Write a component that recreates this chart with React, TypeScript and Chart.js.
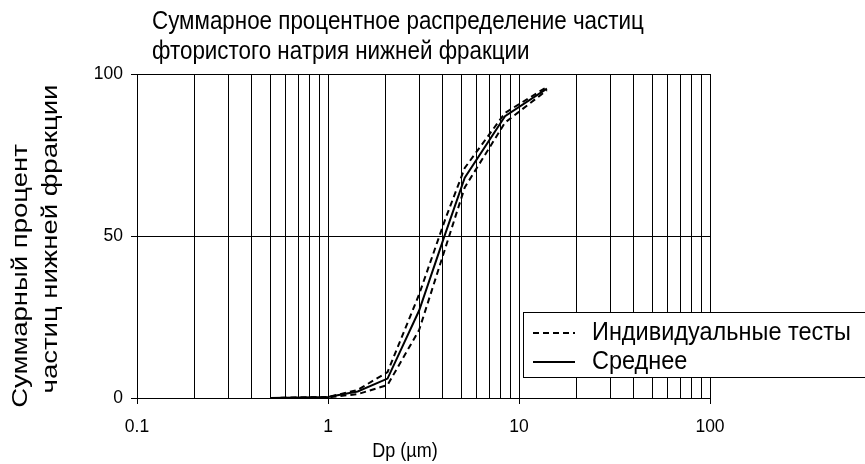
import React, { useEffect, useRef } from "react";
import { Chart, registerables } from "chart.js";

Chart.register(...registerables);

// ---- Data ----
const titleLines = ["Суммарное процентное распределение частиц", "фтористого натрия нижней фракции"];
const yTitleLines = ["Суммарный процент", "частиц нижней фракции"];
const xTitle = "Dp (µm)";
const legendIndividual = "Индивидуальные тесты";
const legendMean = "Среднее";

const particleSizes = [0.5, 1.0, 1.43, 2.05, 3.0, 4.1, 5.2, 8.45, 14.0];
const test1 = [0, 0.3, 2.5, 8, 32, 55, 71, 88, 96];
const test2 = [0, 0.2, 1.2, 4, 21, 46, 65, 85, 95];
const meanValues = [0, 0.3, 2, 6, 27, 50.5, 68, 87, 95.5];

const xGridValues = [
  0.1, 0.2, 0.3, 0.4, 0.5, 0.6, 0.7, 0.8, 0.9,
  1, 2, 3, 4, 5, 6, 7, 8, 9,
  10, 20, 30, 40, 50, 60, 70, 80, 90, 100,
];
const xLabelValues = [0.1, 1, 10, 100];
const yTickValues = [0, 50, 100];

const FONT = "'Liberation Sans', Arial, Helvetica, sans-serif";

const toPoints = (ys: number[]) => particleSizes.map((x, i) => ({ x, y: ys[i] }));

function drawText(ctx: any, text: string, x: number, y: number, size: number, sx: number, sy: number, rot: number, align: string) {
  ctx.save();
  ctx.translate(x, y);
  ctx.rotate(rot);
  ctx.scale(sx, sy);
  ctx.font = `${size}px ${FONT}`;
  ctx.textAlign = align;
  ctx.textBaseline = "middle";
  ctx.fillStyle = "#000";
  ctx.fillText(text, 0, 0);
  ctx.restore();
}

const decorPlugin = {
  id: "decor",
  afterDraw(chart: any) {
    const ctx = chart.ctx;
    const area = chart.chartArea;
    ctx.save();
    // main title
    drawText(ctx, titleLines[0], area.left + 15, 22, 22.4, 1, 1.15, 0, "left");
    drawText(ctx, titleLines[1], area.left + 15, 52, 22.4, 1, 1.15, 0, "left");
    // y-axis title
    drawText(ctx, yTitleLines[0], 21, 276, 22, 1.25, 1, -Math.PI / 2, "center");
    drawText(ctx, yTitleLines[1], 51, 239, 22, 1.25, 1, -Math.PI / 2, "center");
    // x-axis title
    drawText(ctx, xTitle, area.left + 268, 452, 18, 1, 1.1, 0, "center");

    // legend
    const bx = area.left + 386;
    const by = area.top + 238;
    ctx.fillStyle = "#fff";
    ctx.fillRect(bx, by, 400, 65);
    ctx.strokeStyle = "#000";
    ctx.lineWidth = 1;
    ctx.strokeRect(bx + 0.5, by + 0.5, 400, 65);
    const ds = chart.data.datasets;
    const rows = [ds[0], ds[2]];
    rows.forEach((d: any, i: number) => {
      const cy = by + 21 + i * 29;
      ctx.beginPath();
      ctx.setLineDash(d.borderDash || []);
      ctx.lineWidth = 2;
      ctx.strokeStyle = "#000";
      ctx.moveTo(bx + 10, cy);
      ctx.lineTo(bx + 52, cy);
      ctx.stroke();
      ctx.setLineDash([]);
      drawText(ctx, d.label, bx + 69, cy, 23.5, 1, 1.1, 0, "left");
    });
    ctx.restore();
  },
};

export default function App() {
  const ref = useRef<HTMLCanvasElement | null>(null);
  useEffect(() => {
    if (!ref.current) return;
    const chart = new Chart(ref.current, {
      type: "line",
      data: {
        datasets: [
          {
            label: legendIndividual,
            data: toPoints(test1),
            borderColor: "#000",
            borderWidth: 2,
            borderDash: [6, 4],
            pointRadius: 0,
            fill: false,
          },
          {
            label: legendIndividual,
            data: toPoints(test2),
            borderColor: "#000",
            borderWidth: 2,
            borderDash: [6, 4],
            pointRadius: 0,
            fill: false,
          },
          {
            label: legendMean,
            data: toPoints(meanValues),
            borderColor: "#000",
            borderWidth: 2,
            pointRadius: 0,
            fill: false,
          },
        ],
      },
      options: {
        responsive: false,
        animation: false,
        devicePixelRatio: 1,
        layout: { padding: { left: 0, right: 155, top: 74, bottom: 0 } },
        plugins: { legend: { display: false }, title: { display: false }, tooltip: { enabled: false } },
        scales: {
          x: {
            type: "logarithmic",
            min: 0.1,
            max: 100,
            afterBuildTicks: (scale: any) => {
              scale.ticks = xGridValues.map((v) => ({ value: v }));
            },
            afterFit: (scale: any) => {
              scale.height = 66;
            },
            ticks: {
              autoSkip: false,
              maxRotation: 0,
              padding: 13,
              color: "#000",
              font: { family: FONT, size: 17.5 },
              callback: (value: any) => (xLabelValues.some((v) => Math.abs(v - Number(value)) < 1e-9) ? String(value) : ""),
            },
            grid: {
              color: "#000",
              lineWidth: 1,
              tickLength: 6,
              tickColor: (c: any) =>
                c.tick && xLabelValues.some((v) => Math.abs(v - c.tick.value) < 1e-9) ? "#000" : "rgba(0,0,0,0)",
            },
            border: { color: "#000", width: 1 },
            title: { display: false },
          },
          y: {
            type: "linear",
            min: 0,
            max: 100,
            afterBuildTicks: (scale: any) => {
              scale.ticks = yTickValues.map((v) => ({ value: v }));
            },
            afterFit: (scale: any) => {
              scale.width = 137;
            },
            ticks: {
              padding: 8,
              color: "#000",
              font: { family: FONT, size: 17.5 },
            },
            grid: { color: "#000", lineWidth: 1, tickLength: 6 },
            border: { color: "#000", width: 1 },
          },
        },
      },
      plugins: [decorPlugin],
    });
    return () => chart.destroy();
  }, []);
  return (
    <div style={{ position: "absolute", left: 0, top: 0, width: 865, height: 464, background: "#fff" }}>
      <canvas ref={ref} width={865} height={464} />
    </div>
  );
}
